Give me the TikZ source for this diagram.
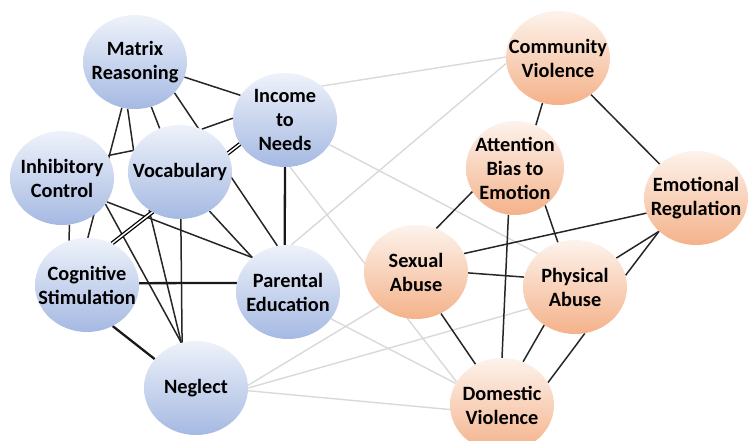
\documentclass[tikz,border=0pt]{standalone}
\usepackage{fontspec}
\setmainfont{Carlito}
\usetikzlibrary{shapes.geometric, backgrounds, positioning}
\definecolor{bluetop}{HTML}{EEF2FA}
\definecolor{bluebot}{HTML}{A5B9E2}
\definecolor{orgtop}{HTML}{FDF3EC}
\definecolor{orgbot}{HTML}{F4B28A}
\definecolor{lightedge}{HTML}{D9D9D9}
\tikzset{
x=1pt, y=-1pt, % one unit is one pixel of the reference, y runs down
every node/.style={font=\bfseries\fontsize{20.3}{24}\selectfont, align=center}, % bold Calibri-like labels
var/.style={ellipse, minimum width=104pt, minimum height=94pt, inner xsep=-24pt, inner ysep=-15pt}, % every circle, fixed size
child var/.style={var, top color=bluetop, bottom color=bluebot}, % left, blue circles
adv var/.style={var, top color=orgtop, bottom color=orgbot}, % right, orange circles
strong/.style={black!85, line width=1.5pt}, % dark connectors
heavy/.style={black!90, line width=2.3pt}, % the two thick ones
weak/.style={lightedge, line width=1.4pt}, % grey connectors
twin/.style={black, line width=1.3pt, double=white, double distance=1.5pt}, % double line
}
\begin{document}
\begin{tikzpicture}
\useasboundingbox (0,0) rectangle (750,441);
\node[child var] (mat) at (135,62) {Matrix\\Reasoning};
\node[child var] (inc) at (285,120) {Income\\to\\Needs};
\node[child var] (inh) at (62,178) {Inhibitory\\Control};
\node[child var] (voc) at (180,172) {Vocabulary};
\node[child var] (cog) at (87,285) {Cognitive\\Stimulation};
\node[child var] (par) at (288,292) {Parental\\Education};
\node[child var] (neg) at (196,388) {Neglect};
\node[adv var] (com) at (558,58) {Community\\Violence};
\node[adv var, minimum width=98pt] (att) at (515,168) {Attention\\Bias to\\Emotion};
\node[adv var] (emo) at (696,198) {Emotional\\Regulation};
\node[adv var] (sex) at (416,272) {Sexual\\Abuse};
\node[adv var] (phy) at (575,287) {Physical\\Abuse};
\node[adv var] (dom) at (502,405) {Domestic\\Violence};
\begin{scope}[on background layer]
% grey links between the two groups
\draw[weak] (inc.43) edge (com.179)
(par.86) edge (com.186)
(inc.-29) edge (phy.138)
(inc.-84) edge (dom.153)
(par.-32) edge (dom.155)
(neg.3) edge (sex.223)
(neg.0) edge (phy.205)
(neg.-3) edge (dom.185);
% left group
\draw[strong] (mat.-17) edge (inc.151)
(cog.89) edge (mat.-106)
(inh.-81) edge (cog.112)
(mat.-99) edge (voc.155)
(inh.26) edge (voc.155)
(mat.-70) edge (voc.115)
(mat.-38) edge (par.103)
(voc.63) edge (inc.178)
(inh.-28) edge (par.136)
(inh.-31) edge (neg.108)
(voc.-129) edge (neg.108)
(voc.-89) edge (neg.107)
(voc.-53) edge (par.136);
\draw[twin] (cog.59) -- (inc.208);
\draw[heavy] (inc.-90) edge (par.94)
(cog.2) edge (par.170)
(cog.-58) edge (neg.145);
% right group
\draw[strong] (com.-109) edge (att.64)
(com.-48) edge (emo.137)
(att.209) edge (sex.65)
(att.-98) edge (dom.90)
(att.-51) edge (phy.111)
(sex.21) edge (emo.197)
(sex.-1) edge (phy.169)
(emo.222) edge (phy.35)
(emo.222) edge (phy.13)
(sex.-59) edge (dom.123)
(phy.231) edge (dom.64)
(phy.-78) edge (dom.26);
\end{scope}
\end{tikzpicture}
\end{document}
